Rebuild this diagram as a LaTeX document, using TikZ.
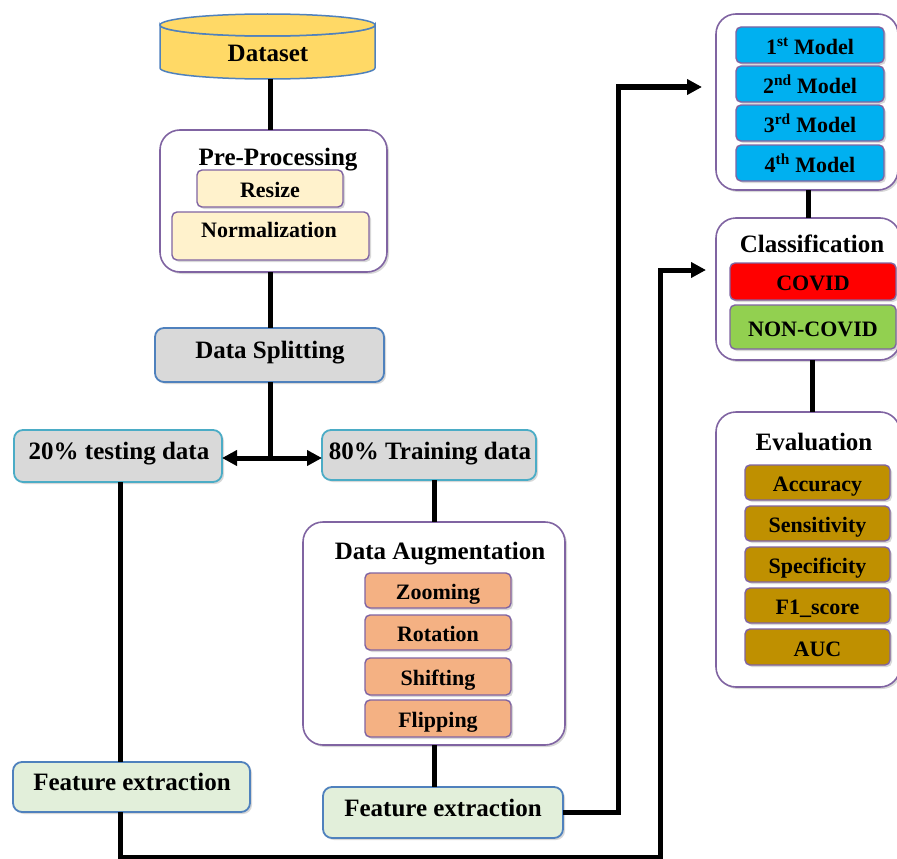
\documentclass[tikz,border=0pt]{standalone}
\usepackage{fontspec}
\setmainfont{Liberation Serif}
\usetikzlibrary{arrows.meta,shadows,calc}
\definecolor{purp}{HTML}{8064A2}
\definecolor{paley}{HTML}{FFF2CC}
\definecolor{grayf}{HTML}{D9D9D9}
\definecolor{teal}{HTML}{4BACC6}
\definecolor{blueb}{HTML}{4F81BD}
\definecolor{feg}{HTML}{E2EFDA}
\definecolor{salmon}{HTML}{F4B183}
\definecolor{cyanb}{HTML}{00B0F0}
\definecolor{greenc}{HTML}{92D050}
\definecolor{goldc}{HTML}{BF9000}
\definecolor{dsy}{HTML}{FFD966}
\newcommand{\bx}[6]{\node[#6,minimum width={(#4)-(#2)},minimum height={(#5)-(#3)}] (#1) at ({((#2)+(#4))/2},{((#3)+(#5))/2}) {};}
\newcommand{\ibx}[7]{\node[#6,minimum width={(#4)-(#2)},minimum height={(#5)-(#3)}] (#1) at ({((#2)+(#4))/2},{((#3)+(#5))/2}) {#7};}
\begin{document}
\begin{tikzpicture}[x=1pt,y=-1pt,
  base/.style={inner sep=0pt,outer sep=0pt,font=\bfseries\fontsize{25}{28}\selectfont,text height=20.5pt,text depth=0pt},
  sh/.style={drop shadow={shadow xshift=2pt,shadow yshift=-2pt,opacity=0.3}},
  group/.style={base,draw=purp,line width=1.6pt,fill=white,rounded corners=20pt,sh},
  item/.style={base,font=\bfseries\fontsize{22}{24}\selectfont,text height=18.5pt,draw=purp,line width=1.4pt,rounded corners=5pt,sh},
  plain/.style={base,draw,line width=1.8pt,rounded corners=9pt,sh},
  ttl/.style={base},
  conn/.style={line width=5pt},
  arr/.style={line width=5pt,-{Triangle[length=15pt,width=15pt]}}
]
\clip (0,0) rectangle (897,859);
\fill[white] (0,0) rectangle (897,859);
% Dataset cylinder
\node[inner sep=0pt,outer sep=0pt,minimum width=215pt,minimum height=65pt] (ds) at (267.5,46.5) {};
\filldraw[fill=dsy,draw=blueb,line width=1.5pt] (160,25) -- (160,68) arc[start angle=180,end angle=360,x radius=107.5,y radius=-11] -- (375,25) arc[start angle=0,end angle=180,x radius=107.5,y radius=11] -- cycle;
\filldraw[fill=dsy,draw=blueb,line width=1.5pt] (267.5,25) ellipse [x radius=107.5,y radius=11];
\node[ttl] (ds-t) at (268,51) {Dataset};
% Pre-processing
\bx{pp}{160}{130}{387}{272}{group}
\node[ttl] (pp-t) at (278,155) {Pre-Processing};
\ibx{rs}{197}{170}{343}{207}{item,fill=paley}{Resize}
\bx{nm}{172}{212}{369}{260}{item,fill=paley}
\node[ttl,font=\bfseries\fontsize{22}{24}\selectfont,text height=18.5pt] (nm-t) at (269,228) {Normalization};
% Data splitting
\bx{sp}{155}{328}{384}{382}{plain,draw=blueb,fill=grayf}
\node[ttl] (sp-t) at (270,348) {Data Splitting};
\bx{te}{14}{430}{222}{482}{plain,draw=teal,fill=grayf}
\node[ttl] (te-t) at (119,449) {20\% testing data};
\bx{tr}{322}{430}{536}{480}{plain,draw=teal,fill=grayf}
\node[ttl] (tr-t) at (430,449) {80\% Training data};
% Augmentation
\bx{au}{303}{522}{565}{745}{group}
\node[ttl] (au-t) at (440,549) {Data Augmentation};
\ibx{a1}{365}{573}{511}{608}{item,fill=salmon}{Zooming}
\ibx{a2}{365}{615}{511}{650}{item,fill=salmon}{Rotation}
\ibx{a3}{365}{658}{511}{695}{item,fill=salmon}{Shifting}
\ibx{a4}{365}{700}{511}{737}{item,fill=salmon}{Flipping}
% Feature extraction
\bx{fl}{13}{762}{250}{812}{plain,draw=blueb,fill=feg}
\node[ttl] (fl-t) at (132,780) {Feature extraction};
\bx{fr}{323}{787}{563}{838}{plain,draw=blueb,fill=feg}
\node[ttl] (fr-t) at (443,806) {Feature extraction};
% Models
\bx{mo}{716}{14}{898}{190}{group}
\ibx{m1}{736}{27}{884}{63}{item,fill=cyanb}{1\textsuperscript{st} Model}
\ibx{m2}{736}{66}{884}{102}{item,fill=cyanb}{2\textsuperscript{nd} Model}
\ibx{m3}{736}{105}{884}{141}{item,fill=cyanb}{3\textsuperscript{rd} Model}
\ibx{m4}{736}{145}{884}{181}{item,fill=cyanb}{4\textsuperscript{th} Model}
% Classification
\bx{cl}{716}{218}{900}{360}{group}
\node[ttl] (cl-t) at (812,242) {Classification};
\ibx{c1}{730}{263}{896}{300}{item,fill=red}{COVID}
\ibx{c2}{730}{305}{896}{349}{item,fill=greenc}{NON-COVID}
% Evaluation
\bx{ev}{716}{412}{900}{687}{group}
\node[ttl] (ev-t) at (814,440) {Evaluation};
\ibx{e1}{745}{465}{890}{500}{item,fill=goldc}{Accuracy}
\ibx{e2}{745}{506}{890}{541}{item,fill=goldc}{Sensitivity}
\ibx{e3}{745}{547}{890}{582}{item,fill=goldc}{Specificity}
\ibx{e4}{745}{588}{890}{623}{item,fill=goldc}{F1\_score}
\ibx{e5}{745}{629}{890}{665}{item,fill=goldc}{AUC}
% coordinates
\coordinate (split) at (270,458);
\coordinate (bl) at (120,857);
\coordinate (br) at (660,857);
\coordinate (tr1) at (618,812);
% connectors
\draw[conn] (270,79) -- (270,130);
\draw[conn] (270,272) -- (270,328);
\draw[conn] (270,382) -- (split);
\draw[arr] (split) -- (te.east |- split);
\draw[arr] (split) -- (tr.west |- split);
\draw[conn] (te.south -| bl) -- (fl.north -| bl);
\draw[conn] (434,480) -- (434,522);
\draw[conn] (434,745) -- (434,787);
\draw[conn] (808,190) -- (808,218);
\draw[conn] (812,360) -- (812,412);
\draw[arr,shorten >=10pt] (fl.south -| bl) -- (bl) -- (br) -- (br |- 0,270) -- (cl.west |- 0,270);
\draw[arr,shorten >=14pt] (fr.east |- tr1) -- (tr1) -- (tr1 |- 0,87) -- (mo.west |- 0,87);
\end{tikzpicture}
\end{document}
